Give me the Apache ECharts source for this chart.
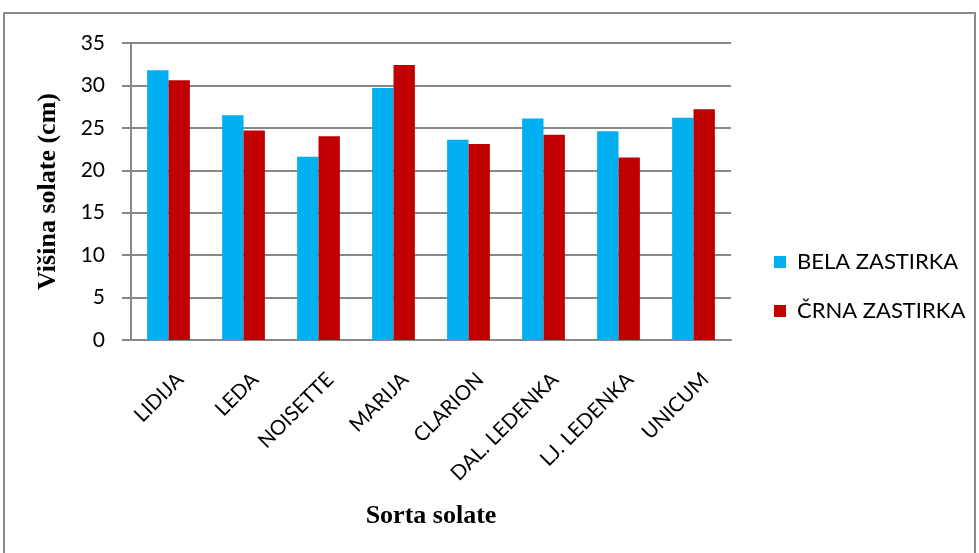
<!DOCTYPE html>
<html>
<head>
<meta charset="utf-8">
<script src="https://cdn.jsdelivr.net/npm/echarts@6/dist/echarts.min.js"></script>
<style>
  html, body { margin: 0; padding: 0; background: #fff; }
  #chart { width: 979px; height: 553px; }
</style>
</head>
<body>
<div id="chart"></div>
<script>
// Lettuce varieties and plant height (cm) under white and black mulch
const categories = ['LIDIJA', 'LEDA', 'NOISETTE', 'MARIJA', 'CLARION', 'DAL. LEDENKA', 'LJ. LEDENKA', 'UNICUM'];
const belaZastirka = [31.8, 26.5, 21.6, 29.7, 23.6, 26.1, 24.6, 26.2];
const crnaZastirka = [30.6, 24.7, 24.0, 32.4, 23.1, 24.2, 21.5, 27.2];
const yTicks = { min: 0, max: 35, interval: 5 };

const labelFont = 'Lato, "Open Sans", sans-serif';
const titleFont = '"Liberation Serif", "Times New Roman", serif';
const gridColor = '#888888';

const chart = echarts.init(document.getElementById('chart'), null, { renderer: 'canvas' });
chart.setOption({
  animation: false,
  backgroundColor: '#ffffff',
  graphic: [{
    type: 'rect',
    shape: { x: 4, y: 13, width: 971, height: 560 },
    style: { fill: 'none', stroke: '#8a8a8a', lineWidth: 2 },
    silent: true
  }],
  grid: { left: 131, right: 248, top: 43, bottom: 213 },
  legend: {
    orient: 'vertical',
    left: 774,
    top: 251,
    padding: 0,
    itemWidth: 12,
    itemHeight: 12,
    itemGap: 27,
    icon: 'rect',
    textStyle: { fontFamily: labelFont, fontSize: 22, color: '#000', padding: [0, 0, 0, 6] },
    data: ['BELA ZASTIRKA', 'ČRNA ZASTIRKA']
  },
  xAxis: {
    type: 'category',
    data: categories,
    name: 'Sorta solate',
    nameLocation: 'middle',
    nameGap: 163,
    nameTextStyle: { fontFamily: titleFont, fontWeight: 'bold', fontSize: 26, color: '#000' },
    axisLine: { lineStyle: { color: gridColor, width: 2 } },
    axisTick: { show: false },
    axisLabel: {
      rotate: 45, margin: 33, verticalAlign: 'top', padding: [0, -6, 0, 0],
      fontFamily: labelFont, fontSize: 20.5, color: '#000'
    }
  },
  yAxis: {
    type: 'value',
    min: yTicks.min,
    max: yTicks.max,
    interval: yTicks.interval,
    name: 'Višina solate (cm)',
    nameLocation: 'middle',
    nameGap: 70,
    nameTextStyle: { fontFamily: titleFont, fontWeight: 'bold', fontSize: 26, color: '#000' },
    axisLine: { show: true, lineStyle: { color: gridColor, width: 2 } },
    axisTick: { show: true, length: 9, lineStyle: { color: gridColor, width: 2 } },
    axisLabel: { margin: 26, fontFamily: labelFont, fontSize: 21, color: '#000' },
    splitLine: { lineStyle: { color: gridColor, width: 2 } }
  },
  series: [
    {
      name: 'BELA ZASTIRKA',
      type: 'bar',
      data: belaZastirka,
      barGap: '0%',
      barCategoryGap: '43%',
      itemStyle: { color: '#00b0f0' }
    },
    {
      name: 'ČRNA ZASTIRKA',
      type: 'bar',
      data: crnaZastirka,
      barGap: '0%',
      barCategoryGap: '43%',
      itemStyle: { color: '#c00000' }
    }
  ]
});
</script>
</body>
</html>
